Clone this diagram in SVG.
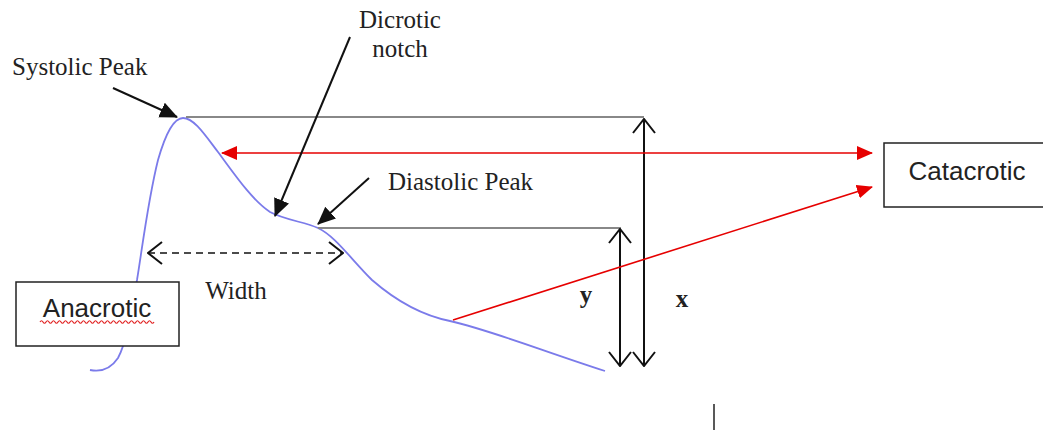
<svg xmlns="http://www.w3.org/2000/svg" width="1043" height="430" viewBox="0 0 1043 430">
<defs>
<marker id="openbig" viewBox="0 0 16 24" refX="15" refY="12" markerWidth="16" markerHeight="24" markerUnits="userSpaceOnUse" orient="auto-start-reverse">
<path d="M1,1 L15,12 L1,23" fill="none" stroke="#111" stroke-width="2"/>
</marker>
<marker id="fillblack" viewBox="0 0 18 18" refX="17" refY="9" markerWidth="18" markerHeight="18" markerUnits="userSpaceOnUse" orient="auto">
<path d="M0,1 L18,9 L0,17 Z" fill="#111"/>
</marker>
<marker id="fillred" viewBox="0 0 16 14" refX="15" refY="7" markerWidth="16" markerHeight="14" markerUnits="userSpaceOnUse" orient="auto-start-reverse">
<path d="M0,0 L16,7 L0,14 Z" fill="#e60000"/>
</marker>
</defs>
<style>
.serif{font-family:"Liberation Serif","Times New Roman",serif;fill:#222;font-size:25px}
.sans{font-family:"Liberation Sans",Arial,sans-serif;fill:#222;font-size:26px}
.box{fill:#fff;stroke:#222;stroke-width:1.5}
.gray{stroke:#888;stroke-width:2;fill:none}
.red{stroke:#e60000;stroke-width:1.6;fill:none}
.blk{stroke:#111;stroke-width:2;fill:none}
</style>
<rect width="1043" height="430" fill="#fff"/>
<g id="waveform">
<path d="M90,370 C100,372 110,370 118,358 C128,340 133,300 137,280 C142,250 148,200 158,160 C166,132 174,118 183,118 C194,118 205,135 218,152 C235,175 252,200 270,212 C285,220 305,222 318,228 C335,236 350,258 372,280 C395,300 420,315 450,321 C490,330 540,350 605,371" fill="none" stroke="#7b7bea" stroke-width="1.8"/>
</g>
<g id="connectors">
<line class="gray" x1="186" y1="117" x2="644" y2="117"/>
<line class="gray" x1="318" y1="228" x2="621" y2="228"/>
<line class="blk" x1="644" y1="119" x2="644" y2="366" marker-start="url(#openbig)" marker-end="url(#openbig)"/>
<line class="blk" x1="620" y1="229" x2="620" y2="366" marker-start="url(#openbig)" marker-end="url(#openbig)"/>
<line class="red" x1="222" y1="153" x2="872" y2="153" marker-start="url(#fillred)" marker-end="url(#fillred)"/>
<line class="red" x1="453" y1="320" x2="872" y2="187" marker-end="url(#fillred)"/>
<line x1="148" y1="253" x2="343" y2="253" stroke="#111" stroke-width="1.6" stroke-dasharray="7,5" marker-start="url(#openbig)" marker-end="url(#openbig)"/>
<line class="blk" x1="113" y1="88" x2="177" y2="117" marker-end="url(#fillblack)"/>
<line class="blk" x1="350" y1="37" x2="275" y2="216" marker-end="url(#fillblack)"/>
<line class="blk" x1="369" y1="178" x2="318" y2="224" marker-end="url(#fillblack)"/>
<line x1="714" y1="404" x2="714" y2="430" stroke="#222" stroke-width="1.5"/>
</g>
<g id="systolic-peak"><text class="serif" x="12" y="75">Systolic Peak</text></g>
<g id="dicrotic-notch"><text class="serif" x="400" y="28" text-anchor="middle">Dicrotic</text><text class="serif" x="400" y="57" text-anchor="middle">notch</text></g>
<g id="diastolic-peak"><text class="serif" x="388" y="190">Diastolic Peak</text></g>
<g id="width"><text class="serif" x="236" y="299" text-anchor="middle">Width</text></g>
<g id="y-label"><text class="serif" x="586" y="303" text-anchor="middle" font-weight="bold">y</text></g>
<g id="x-label"><text class="serif" x="682" y="307" text-anchor="middle" font-weight="bold">x</text></g>
<g id="catacrotic">
<rect class="box" x="884" y="143" width="165" height="64"/>
<text class="sans" x="967" y="180" text-anchor="middle">Catacrotic</text>
</g>
<g id="anacrotic">
<rect class="box" x="16" y="282" width="163" height="64"/>
<text class="sans" x="97" y="317" text-anchor="middle">Anacrotic</text>
<path d="M40,322 q1.5,-2.5 3,0 t3,0 t3,0 t3,0 t3,0 t3,0 t3,0 t3,0 t3,0 t3,0 t3,0 t3,0 t3,0 t3,0 t3,0 t3,0 t3,0 t3,0 t3,0 t3,0 t3,0 t3,0 t3,0 t3,0 t3,0 t3,0 t3,0 t3,0 t3,0 t3,0 t3,0 t3,0 t3,0 t3,0 t3,0 t3,0 t3,0 t3,0" fill="none" stroke="#e02020" stroke-width="1.2"/>
</g>
</svg>
